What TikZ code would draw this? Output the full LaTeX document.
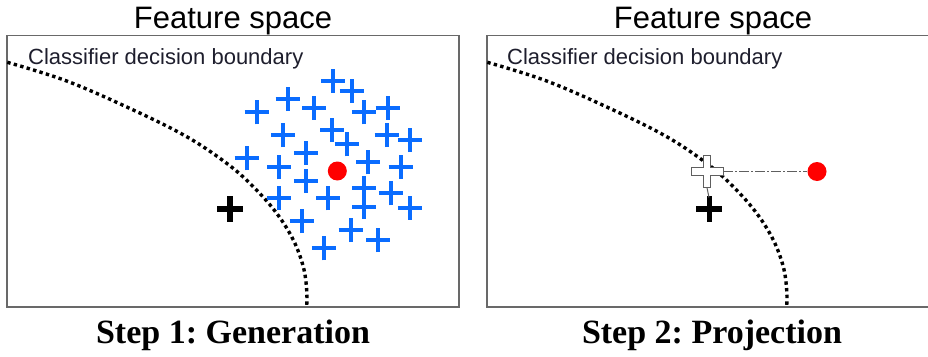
\documentclass[tikz,border=0pt]{standalone}
\usepackage{fontspec}
\setmainfont{Liberation Serif}
\setsansfont{Liberation Sans}
\usetikzlibrary{shapes.misc}
\definecolor{crossblue}{RGB}{10,108,255}
\definecolor{boxgray}{RGB}{105,105,105}
\definecolor{labelink}{RGB}{30,30,45}
\definecolor{linkgray}{RGB}{95,95,95}
\frenchspacing
\tikzset{
  panel/.style={draw=boxgray, line width=1.8pt},
  titletext/.style={font=\sffamily\fontsize{31}{31}\selectfont, anchor=base, inner sep=0},
  boundtext/.style={font=\sffamily\fontsize{22}{22}\selectfont, text=labelink, anchor=base west, inner sep=0},
  steptext/.style={font=\rmfamily\bfseries\fontsize{34}{34}\selectfont, anchor=base, inner sep=0},
  boundary/.style={line width=3.4pt, dash pattern=on 3.4pt off 3.3pt},
  bluecross/.style={cross out, draw=crossblue, line width=4.3pt, rotate=45, minimum size=12.7pt, inner sep=0pt},
  blackcross/.style={cross out, draw=black, line width=5.3pt, rotate=45, minimum size=13pt, inner sep=0pt},
  reddot/.style={circle, fill=red, minimum size=19pt, inner sep=0pt},
  hollow/.style={draw=linkgray, fill=white, line width=1pt},
  link/.style={draw=linkgray, line width=1pt, dash pattern=on 10pt off 2pt on 2pt off 2pt},
}
\begin{document}
\begin{tikzpicture}[x=1pt,y=-1pt]
\clip (0,0) rectangle (928,356);
\fill[white] (0,0) rectangle (928,356);
% ---------- left panel ----------
\node[titletext] (t1) at (233,28) {Feature space};
\draw[panel] (7,35.5) rectangle (459,307);
\node[boundtext] (c1) at (28,64) {Classifier decision boundary};
\draw[boundary] plot[smooth, tension=0.6] coordinates {(7.3,62.3) (66.7,81) (133.3,110) (186.7,136.7) (226.7,163.3) (253.3,186.7) (276.7,213.3) (293.3,240) (303.3,266.7) (306.7,290) (306.7,306)};
\foreach \x/\y [count=\i] in {333.3/80.7, 351.7/90.7, 287.7/99, 256.7/112.3, 314.3/107.7, 364/112.3, 387.7/107.7, 283.3/135, 332.3/130, 346.7/144.3, 386.7/135, 410/140, 246.7/158.3, 279.3/167.3, 306/152.7, 368.3/162.3, 400.7/166.7, 306/180.7, 279.3/197.7, 328.3/198.3, 364.3/188.3, 364.3/206.7, 391/193.3, 410/207.7, 301.7/221, 350.7/230, 378.3/240, 324/248.3}
  \node[bluecross] (b\i) at (\x,\y) {};
\node[reddot] (r1) at (337.3,171) {};
\node[blackcross] (k1) at (230,209) {};
\node[steptext] (s1) at (233,343) {Step 1: Generation};
% ---------- right panel ----------
\node[titletext] (t2) at (713,28) {Feature space};
\draw[panel] (487,35.5) rectangle (939,307);
\node[boundtext] (c2) at (507,64) {Classifier decision boundary};
\begin{scope}[xshift=480pt]
\draw[boundary] plot[smooth, tension=0.6] coordinates {(7.3,62.3) (66.7,81) (133.3,110) (186.7,136.7) (226.7,163.3) (253.3,186.7) (276.7,213.3) (293.3,240) (303.3,266.7) (306.7,290) (306.7,306)};
\end{scope}
\node[reddot] (r2) at (817,171.5) {};
\node[blackcross] (k2) at (709.3,209) {};
\coordinate (k2top) at (709.3,199);
\node[inner sep=0pt, minimum size=32pt] (hc) at (707,171.5) {};
\draw[hollow] (hc.center) ++(-3.7,-16) -- ++(7.4,0) -- ++(0,12.3) -- ++(12.3,0) -- ++(0,7.4) -- ++(-12.3,0) -- ++(0,12.3) -- ++(-7.4,0) -- ++(0,-12.3) -- ++(-12.3,0) -- ++(0,-7.4) -- ++(12.3,0) -- cycle;
\draw[link] (hc.east) -- (r2.west);
\draw[link] (hc.south) -- (k2top);
\node[steptext] (s2) at (712,343) {Step 2: Projection};
\end{tikzpicture}
\end{document}
